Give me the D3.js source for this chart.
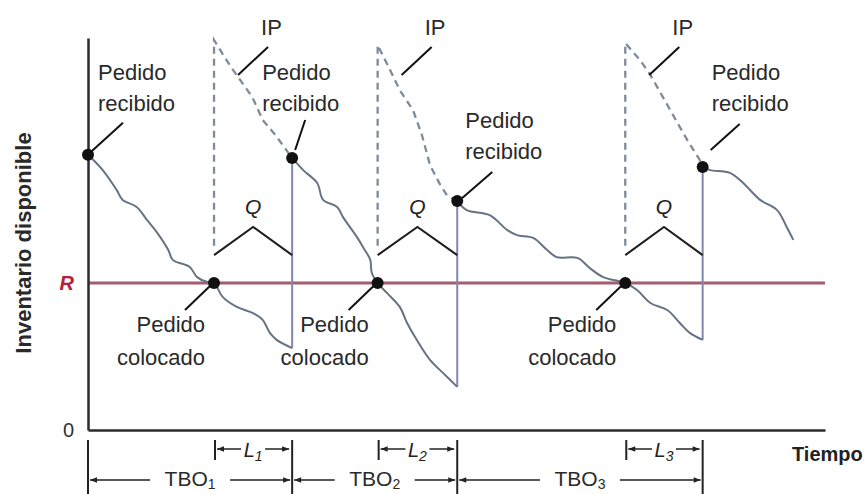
<!DOCTYPE html>
<html><head><meta charset="utf-8">
<script src="https://cdn.jsdelivr.net/npm/d3@7"></script>
<style>
html,body{margin:0;padding:0;background:#fff;}
svg{display:block;}
text{font-family:"Liberation Sans", Arial, sans-serif;}
</style></head><body>
<svg id="chart" width="866" height="494"></svg>
<script>
// ---- data (time and inventory in arbitrary units, 0..100) ----
const reorderPoint = 37.5;
const yTickValues = [0, reorderPoint];
const yTickLabels = ["0", "R"];
const orderTimes = [17.1, 39.3, 72.9];
const receiptTimes = [27.7, 50.1, 83.4];
const receiptLow = [20.9, 11.0, 23.0];
const receiptHigh = [69.4, 58.4, 67.1];
const startPoint = [0, 70.2];
const onHand1 = [[0,70.2],[2.0,66.3],[3.9,61.2],[4.7,58.7],[6.6,56.9],[8.0,53.6],[9.4,50.3],[10.9,45.9],[11.5,43.4],[13.8,41.6],[14.8,39.0],[16.1,37.8],[17.1,37.5],[18.3,33.9],[20.2,31.4],[22.4,29.8],[23.7,28.1],[24.7,24.7],[25.6,23.0],[27.7,20.9]];
const onHand2 = [[27.7,69.4],[29.2,66.3],[31.1,63.0],[31.9,58.7],[33.8,56.9],[34.6,54.3],[36.5,49.2],[37.3,46.7],[38.3,43.4],[38.5,40.1],[39.3,37.5],[40.6,34.9],[42.3,31.4],[43.3,27.3],[44.6,23.0],[46.4,17.9],[48.2,14.5],[50.1,11.0]];
const onHand3 = [[50.1,58.4],[51.4,56.1],[54.5,54.8],[56.9,51.0],[58.2,49.7],[60.4,49.0],[62.3,45.9],[63.6,44.1],[66.4,43.9],[68.1,41.3],[69.9,39.0],[72.9,37.5],[74.5,35.7],[76.3,32.4],[78.6,30.6],[80.3,27.3],[81.7,24.7],[83.4,23.0]];
const onHand4 = [[83.4,67.1],[84.4,66.3],[87.1,65.6],[88.9,63.0],[91.2,58.7],[93.5,56.1],[94.8,51.8],[95.7,48.5]];
const ip1 = [[17.1,47],[17.1,99.5],[18.6,94.9],[19.7,91.8],[22.3,84.9],[23.7,79.1],[25.4,75.3],[27.7,69.4]];
const ip2 = [[39.3,47],[39.3,98.2],[41.0,91.8],[42.3,86.7],[44.1,81.6],[45.3,75.3],[46.4,67.6],[47.8,62.5],[48.7,59.9],[50.1,58.4]];
const ip3 = [[72.9,47],[72.9,98.7],[74.9,94.4],[76.3,90.6],[79.0,81.6],[81.3,74.0],[83.0,68.9],[83.4,67.1]];
const qBracketLow = 44.6, qBracketHigh = 51.8;
const leadSubs = ["1","2","3"];
const tboSubs = ["1","2","3"];

// ---- scales ----
const svg = d3.select("#chart");
const x = d3.scaleLinear().domain([0,100]).range([88,825]);
const y = d3.scaleLinear().domain([0,100]).range([430,38]);

const defs = svg.append("defs");
function marker(id, dir){
  const m = defs.append("marker").attr("id",id).attr("viewBox","0 0 10 10")
    .attr("refX", dir>0?10:0).attr("refY",5).attr("markerWidth",8).attr("markerHeight",7)
    .attr("markerUnits","userSpaceOnUse").attr("orient","auto");
  m.append("path").attr("d", dir>0 ? "M0,1L10,5L0,9Z" : "M10,1L0,5L10,9Z").attr("fill","#222");
}
marker("aR",1); marker("aL",-1);

// reorder line
svg.append("line").attr("x1",x(0)).attr("x2",x(100)).attr("y1",y(reorderPoint)).attr("y2",y(reorderPoint))
  .attr("stroke","#a25d6e").attr("stroke-width",3);

// axes
const yAxis = d3.axisLeft(y).tickValues(yTickValues).tickSize(0).tickSizeOuter(0).tickPadding(14)
  .tickFormat((d,i)=>yTickLabels[i]);
const gy = svg.append("g").attr("transform",`translate(${x(0)},0)`).call(yAxis);
gy.select(".domain").attr("stroke","#2b2b2b").attr("stroke-width",2.5);
gy.selectAll(".tick text").attr("font-size",20).attr("fill","#333").attr("font-family","Liberation Sans, Arial, sans-serif");
gy.selectAll(".tick text").filter((d,i)=>i===1).attr("fill","#b3213a").attr("font-weight","bold").attr("font-style","italic");

const xAxis = d3.axisBottom(x).tickValues([]).tickSizeOuter(0);
const gx = svg.append("g").attr("transform",`translate(0,${y(0)})`).call(xAxis);
gx.select(".domain").attr("stroke","#2b2b2b").attr("stroke-width",2.5);

// IP dashed
const lineLin = d3.line().x(d=>x(d[0])).y(d=>y(d[1]));
[ip1,ip2,ip3].forEach(p=>{
  svg.append("path").attr("d",lineLin(p)).attr("fill","none").attr("stroke","#7d8b9c")
    .attr("stroke-width",2.3).attr("stroke-dasharray","7,5");
});

// receipt vertical lines
receiptTimes.forEach((t,i)=>{
  svg.append("line").attr("x1",x(t)).attr("x2",x(t)).attr("y1",y(receiptLow[i])).attr("y2",y(receiptHigh[i]))
    .attr("stroke","#8088ad").attr("stroke-width",2);
});

// on-hand curves
const lineCurve = d3.line().x(d=>x(d[0])).y(d=>y(d[1])).curve(d3.curveCatmullRom.alpha(0.5));
[onHand1,onHand2,onHand3,onHand4].forEach(p=>{
  svg.append("path").attr("d",lineCurve(p)).attr("fill","none").attr("stroke","#667384").attr("stroke-width",2);
});

// Q brackets
orderTimes.forEach((t,i)=>{
  const r = receiptTimes[i], m=(t+r)/2;
  svg.append("path").attr("d",lineLin([[t,qBracketLow],[m,qBracketHigh],[r,qBracketLow]]))
    .attr("fill","none").attr("stroke","#1e1e1e").attr("stroke-width",2);
  svg.append("text").attr("x",x(m)).attr("y",y(qBracketHigh)-13).attr("text-anchor","middle")
    .attr("font-size",21).attr("font-style","italic").attr("fill","#222").text("Q");
});

// dots
const dots = [startPoint].concat(orderTimes.map(t=>[t,reorderPoint]), receiptTimes.map((t,i)=>[t,receiptHigh[i]]));
svg.selectAll("circle.dot").data(dots).enter().append("circle").attr("class","dot")
  .attr("cx",d=>x(d[0])).attr("cy",d=>y(d[1])).attr("r",6).attr("fill","#111");

// labels
function twoLine(xp, yp, anchor, l1, l2, gap){
  const t = svg.append("text").attr("font-size",22).attr("fill","#2a2a2a").attr("text-anchor",anchor);
  t.append("tspan").attr("x",xp).attr("y",yp).text(l1);
  t.append("tspan").attr("x",xp).attr("y",yp+gap).text(l2);
}
function leader(x1,y1,x2,y2){
  svg.append("line").attr("x1",x1).attr("y1",y1).attr("x2",x2).attr("y2",y2).attr("stroke","#111").attr("stroke-width",2);
}
// Pedido recibido
const recPts = [startPoint].concat(receiptTimes.map((t,i)=>[t,receiptHigh[i]]));
const recLabel = [[10,-75],[-30,-78],[8,-73],[9,-87]];
const recLead = [[2,-2,35,-32],[3,-8,13,-38],[5,-3,35,-29],[8,-17,37,-43]];
recPts.forEach((p,i)=>{
  const px=x(p[0]), py=y(p[1]);
  twoLine(px+recLabel[i][0], py+recLabel[i][1], "start", "Pedido", "recibido", 31);
  leader(px+recLead[i][0], py+recLead[i][1], px+recLead[i][2], py+recLead[i][3]);
});
// Pedido colocado
orderTimes.forEach((t,i)=>{
  const px=x(t), py=y(reorderPoint);
  twoLine(px-9, py+49, "end", "Pedido", "colocado", 33);
  leader(px-3, py+2, px-29, py+27);
});
// IP labels
orderTimes.forEach((t,i)=>{
  const px=x(t);
  svg.append("text").attr("x",px+47).attr("y",35).attr("font-size",22).attr("fill","#2a2a2a").text("IP");
  leader(px+54, 47, px+24, 75);
});

// y label
svg.append("text").attr("transform","translate(31,243) rotate(-90)").attr("text-anchor","middle")
  .attr("font-size",22).attr("font-weight","bold").attr("fill","#2a2a2a").text("Inventario disponible");
// x label
svg.append("text").attr("x",792).attr("y",461).attr("font-size",20).attr("font-weight","bold").attr("fill","#222").text("Tiempo");

// bottom annotations
const boundaries = [0].concat(receiptTimes);
boundaries.forEach(t=>{
  svg.append("line").attr("x1",x(t)).attr("x2",x(t)).attr("y1",440).attr("y2",494).attr("stroke","#222").attr("stroke-width",2);
});
orderTimes.forEach((t,i)=>{
  const a=x(t), b=x(receiptTimes[i]), m=(a+b)/2;
  svg.append("line").attr("x1",a+1).attr("x2",a+1).attr("y1",440).attr("y2",460).attr("stroke","#222").attr("stroke-width",2);
  svg.append("line").attr("x1",m-12).attr("x2",a+3).attr("y1",449).attr("y2",449).attr("stroke","#222").attr("stroke-width",1.5).attr("marker-end","url(#aR)");
  svg.append("line").attr("x1",m+12).attr("x2",b-3).attr("y1",449).attr("y2",449).attr("stroke","#222").attr("stroke-width",1.5).attr("marker-end","url(#aR)");
  const tx = svg.append("text").attr("x",m).attr("y",457).attr("text-anchor","middle").attr("font-size",20).attr("font-style","italic").attr("fill","#222");
  tx.append("tspan").text("L");
  tx.append("tspan").attr("font-size",14).attr("dy",4).text(leadSubs[i]);
});
receiptTimes.forEach((t,i)=>{
  const a=x(boundaries[i]), b=x(t), m=(a+b)/2;
  svg.append("line").attr("x1",m-40).attr("x2",a+2).attr("y1",480).attr("y2",480).attr("stroke","#222").attr("stroke-width",1.5).attr("marker-end","url(#aR)");
  svg.append("line").attr("x1",m+40).attr("x2",b-2).attr("y1",480).attr("y2",480).attr("stroke","#222").attr("stroke-width",1.5).attr("marker-end","url(#aR)");
  const tx = svg.append("text").attr("x",m).attr("y",486).attr("text-anchor","middle").attr("font-size",21).attr("fill","#2a2a2a");
  tx.append("tspan").text("TBO");
  tx.append("tspan").attr("font-size",14).attr("dy",3).text(tboSubs[i]);
});
</script>
</body></html>
